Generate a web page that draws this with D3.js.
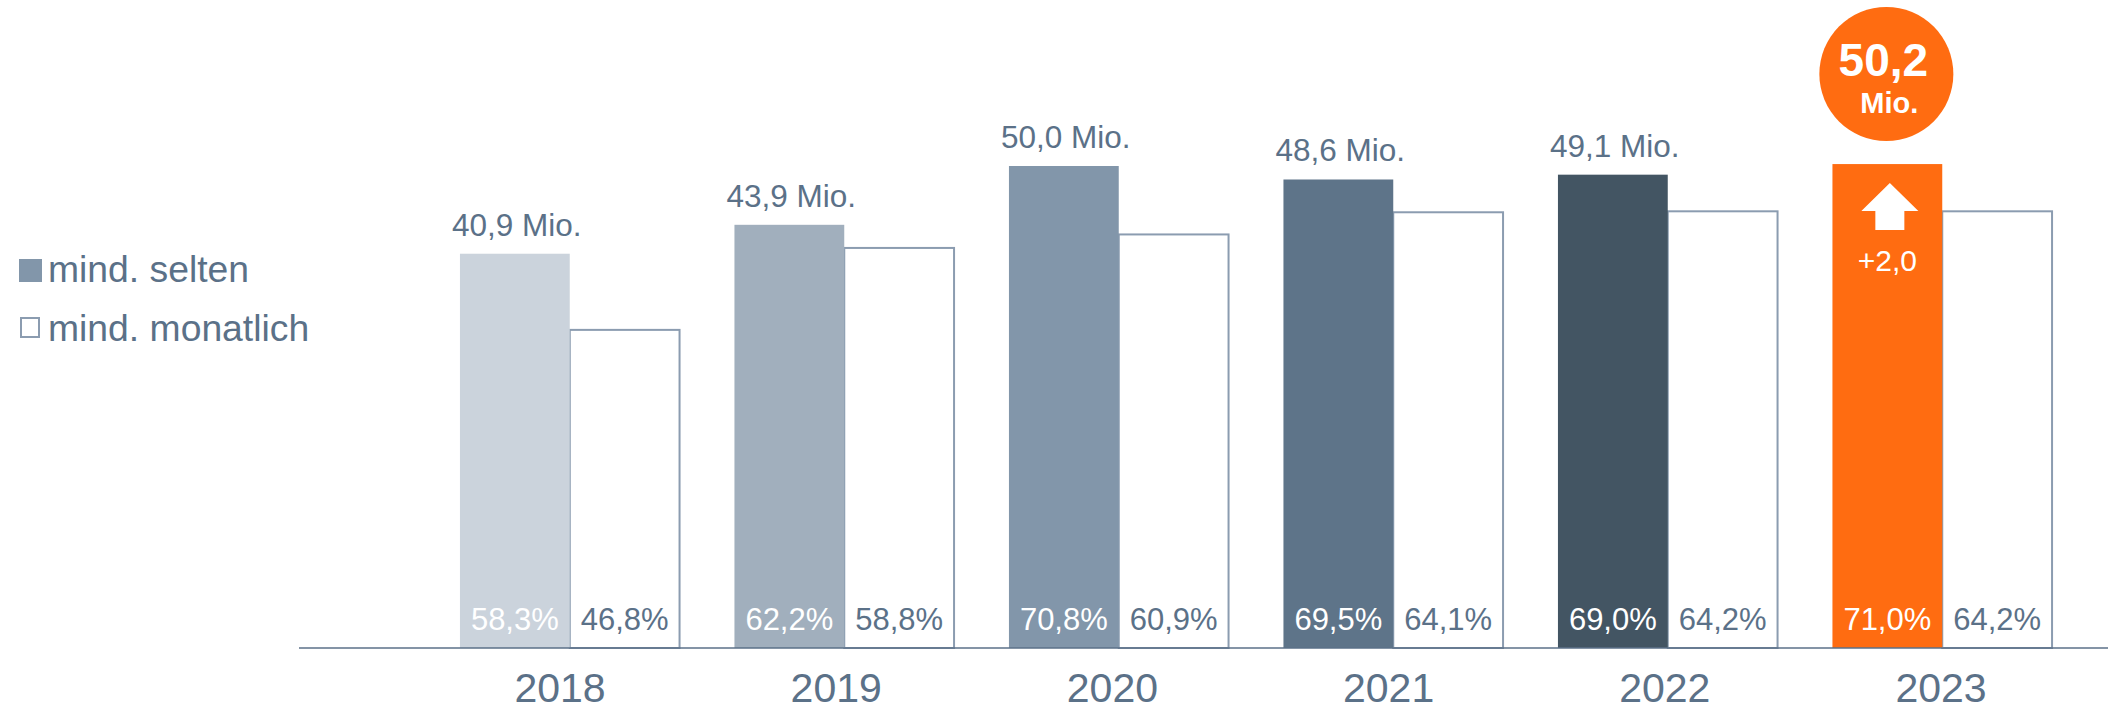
<!DOCTYPE html>
<html>
<head>
<meta charset="utf-8">
<script src="https://cdn.jsdelivr.net/npm/d3@7"></script>
<style>
  html, body { margin: 0; padding: 0; background: #ffffff; }
  svg { display: block; }
  text { font-family: "Liberation Sans", Arial, sans-serif; }
</style>
</head>
<body>
<svg id="chart" width="2108" height="711"></svg>
<script>
// ---- data ----
const years = ["2018", "2019", "2020", "2021", "2022", "2023"];
const seltenMio = [40.9, 43.9, 50.0, 48.6, 49.1, 50.2];
const monatlichMio = [33.0, 41.5, 42.9, 45.2, 45.3, 45.3];
const seltenPct = [58.3, 62.2, 70.8, 69.5, 69.0, 71.0];
const monatlichPct = [46.8, 58.8, 60.9, 64.1, 64.2, 64.2];
const barColors = ["#cbd3dc", "#a1afbd", "#8296aa", "#5e7489", "#435563", "#ff6c11"];
const seriesKeys = ["selten", "monatlich"];
const legendLabels = ["mind. selten", "mind. monatlich"];
const highlightValue = 50.2;
const highlightDelta = "+2,0";

// ---- layout ----
const W = 2108, H = 711;
const baseY = 648;
const textColor = "#5b7188";
const outlineColor = "#8b9cb0";
const orange = "#ff6c11";
const fmt = v => v.toFixed(1).replace(".", ",");

const svg = d3.select("#chart");

const x = d3.scaleBand().domain(years).range([432.5, 2079.5]).paddingInner(0.2).paddingOuter(0.1);
const xi = d3.scaleBand().domain(seriesKeys).range([0, x.bandwidth()]).padding(0);
const xLabel = d3.scalePoint().domain(years).range([559.5, 1940.5]);
const y = d3.scaleLinear().domain([0, 50]).range([baseY, 166]);

const data = years.map((yr, i) => ({
  year: yr, i,
  selten: seltenMio[i], monatlich: monatlichMio[i],
  sp: seltenPct[i], mp: monatlichPct[i], color: barColors[i]
}));

const g = svg.append("g");

// monatlich outline bars
g.selectAll("rect.mon").data(data).join("rect")
  .attr("class", "mon")
  .attr("x", d => x(d.year) + xi("monatlich"))
  .attr("y", d => y(d.monatlich))
  .attr("width", xi.bandwidth())
  .attr("height", d => baseY - y(d.monatlich))
  .attr("fill", "#ffffff")
  .attr("stroke", outlineColor)
  .attr("stroke-width", 2);

// selten filled bars
g.selectAll("rect.sel").data(data).join("rect")
  .attr("class", "sel")
  .attr("x", d => x(d.year) + xi("selten"))
  .attr("y", d => y(d.selten))
  .attr("width", xi.bandwidth())
  .attr("height", d => baseY - y(d.selten))
  .attr("fill", d => d.color);

// axis line
svg.append("line")
  .attr("x1", 299).attr("x2", W)
  .attr("y1", baseY).attr("y2", baseY)
  .attr("stroke", textColor).attr("stroke-width", 1.5);

// year labels via axis
const axis = svg.append("g")
  .attr("transform", `translate(0,${baseY})`)
  .call(d3.axisBottom(xLabel).tickSize(0).tickPadding(0));
axis.select(".domain").remove();
axis.selectAll("text")
  .attr("y", 54)
  .attr("dy", null)
  .attr("fill", textColor)
  .style("font-size", "41px")
  .style("font-family", '"Liberation Sans", Arial, sans-serif');

// Mio labels above selten bars (not for highlighted last year)
g.selectAll("text.mio").data(data.filter(d => d.i < data.length - 1)).join("text")
  .attr("class", "mio")
  .attr("x", d => x(d.year) + xi("selten") + xi.bandwidth() / 2 + 2)
  .attr("y", d => y(d.selten) - 18)
  .attr("text-anchor", "middle")
  .attr("fill", textColor)
  .style("font-size", "31.5px")
  .text(d => fmt(d.selten) + " Mio.");

// percentage labels
g.selectAll("text.sp").data(data).join("text")
  .attr("class", "sp")
  .attr("x", d => x(d.year) + xi("selten") + xi.bandwidth() / 2)
  .attr("y", baseY - 18)
  .attr("text-anchor", "middle")
  .attr("fill", "#ffffff")
  .style("font-size", "31px")
  .text(d => fmt(d.sp) + "%");

g.selectAll("text.mp").data(data).join("text")
  .attr("class", "mp")
  .attr("x", d => x(d.year) + xi("monatlich") + xi.bandwidth() / 2)
  .attr("y", baseY - 18)
  .attr("text-anchor", "middle")
  .attr("fill", textColor)
  .style("font-size", "31px")
  .text(d => fmt(d.mp) + "%");

// highlight for last year
const last = data[data.length - 1];
const cx = x(last.year) + xi("selten") + xi.bandwidth() / 2;
const hg = svg.append("g");
hg.append("circle")
  .attr("cx", cx - 1).attr("cy", 74).attr("r", 67)
  .attr("fill", orange);
hg.append("text")
  .attr("x", cx - 4).attr("y", 76)
  .attr("text-anchor", "middle")
  .attr("fill", "#ffffff")
  .style("font-size", "46px").style("font-weight", "bold")
  .text(fmt(highlightValue));
hg.append("text")
  .attr("x", cx + 2).attr("y", 113)
  .attr("text-anchor", "middle")
  .attr("fill", "#ffffff")
  .style("font-size", "29px").style("font-weight", "bold")
  .text("Mio.");

// arrow inside bar
const ax = cx + 2.5, atop = y(last.selten) + 19;
const arrow = d3.path();
arrow.moveTo(ax, atop);
arrow.lineTo(ax + 28.5, atop + 28);
arrow.lineTo(ax + 14.5, atop + 28);
arrow.lineTo(ax + 14.5, atop + 47);
arrow.lineTo(ax - 14.5, atop + 47);
arrow.lineTo(ax - 14.5, atop + 28);
arrow.lineTo(ax - 28.5, atop + 28);
arrow.closePath();
hg.append("path").attr("d", arrow.toString()).attr("fill", "#ffffff");
hg.append("text")
  .attr("x", cx).attr("y", atop + 88)
  .attr("text-anchor", "middle")
  .attr("fill", "#ffffff")
  .style("font-size", "30px")
  .text(highlightDelta);

// legend
const lg = svg.append("g");
lg.append("rect").attr("x", 19).attr("y", 259).attr("width", 23).attr("height", 23)
  .attr("fill", barColors[2]);
lg.append("rect").attr("x", 21).attr("y", 318).attr("width", 18).attr("height", 19)
  .attr("fill", "#ffffff").attr("stroke", outlineColor).attr("stroke-width", 2);
lg.selectAll("text.leg").data(legendLabels).join("text")
  .attr("class", "leg")
  .attr("x", 48)
  .attr("y", (d, i) => 282 + i * 58.5)
  .attr("fill", textColor)
  .style("font-size", "37.3px")
  .text(d => d);
</script>
</body>
</html>
